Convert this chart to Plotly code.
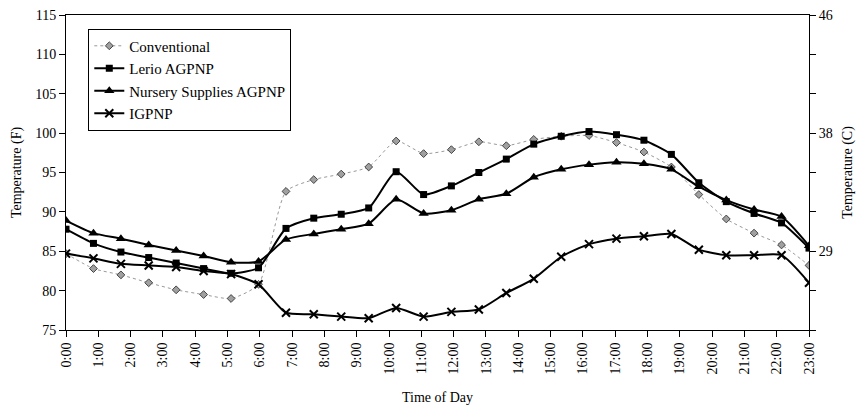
import plotly.graph_objects as go

# Times of measurement (hours since midnight), 28 evenly spaced readings
times = [0.00, 0.85, 1.70, 2.56, 3.41, 4.26, 5.11, 5.96, 6.81, 7.67, 8.52, 9.37,
         10.22, 11.07, 11.93, 12.78, 13.63, 14.48, 15.33, 16.19, 17.04, 17.89,
         18.74, 19.59, 20.44, 21.30, 22.15, 23.00]

conventional = [84.7, 82.8, 82.0, 81.0, 80.1, 79.5, 79.0, 80.8, 92.6, 94.1, 94.8, 95.7,
                99.0, 97.4, 97.9, 98.9, 98.4, 99.2, 99.6, 99.7, 98.8, 97.6,
                95.7, 92.2, 89.1, 87.3, 85.8, 83.2]
lerio = [87.8, 86.0, 84.9, 84.2, 83.5, 82.8, 82.2, 82.9, 87.9, 89.2, 89.7, 90.5,
         95.1, 92.2, 93.3, 95.0, 96.7, 98.6, 99.6, 100.2, 99.8, 99.1,
         97.3, 93.7, 91.3, 89.8, 88.6, 85.4]
nursery = [88.9, 87.3, 86.6, 85.8, 85.1, 84.4, 83.6, 83.7, 86.5, 87.2, 87.8, 88.5,
           91.6, 89.8, 90.2, 91.6, 92.3, 94.4, 95.4, 96.0, 96.3, 96.1,
           95.4, 93.2, 91.5, 90.3, 89.4, 85.7]
igpnp = [84.7, 84.1, 83.4, 83.2, 83.0, 82.5, 82.1, 80.8, 77.2, 77.0, 76.7, 76.5,
         77.8, 76.7, 77.3, 77.6, 79.7, 81.5, 84.3, 85.9, 86.6, 86.9,
         87.2, 85.2, 84.5, 84.5, 84.5, 81.0]

hour_ticks = list(range(24))
hour_labels = [f"{h}:00" for h in hour_ticks]
f_ticks = [75, 80, 85, 90, 95, 100, 105, 110, 115]
c_tick_text = ["", "", "29", "", "", "38", "", "", "46"]

serif = "Liberation Serif, Times New Roman, serif"

fig = go.Figure()
fig.add_trace(go.Scatter(
    x=times, y=conventional, name="Conventional", mode="lines+markers",
    line=dict(color="#999999", width=1, dash="dot", shape="spline", smoothing=0.6),
    marker=dict(symbol="diamond", size=6, color="#a0a0a0", line=dict(color="#444", width=1))))
fig.add_trace(go.Scatter(
    x=times, y=lerio, name="Lerio AGPNP", mode="lines+markers",
    line=dict(color="black", width=2, shape="spline", smoothing=0.6),
    marker=dict(symbol="square", size=7, color="black")))
fig.add_trace(go.Scatter(
    x=times, y=nursery, name="Nursery Supplies AGPNP", mode="lines+markers",
    line=dict(color="black", width=2, shape="spline", smoothing=0.6),
    marker=dict(symbol="triangle-up", size=9, color="black")))
fig.add_trace(go.Scatter(
    x=times, y=igpnp, name="IGPNP", mode="lines+markers",
    line=dict(color="black", width=2, shape="spline", smoothing=0.6),
    marker=dict(symbol="x-thin", size=8, color="black", line=dict(color="black", width=2))))

# invisible trace to activate secondary axis
fig.add_trace(go.Scatter(x=[0], y=[75], yaxis="y2", showlegend=False,
                         mode="markers", marker=dict(opacity=0), hoverinfo="skip"))

fig.update_layout(
    width=861, height=412,
    margin=dict(l=66, r=51, t=8, b=82),
    paper_bgcolor="white", plot_bgcolor="white",
    font=dict(family=serif, size=14, color="black"),
    showlegend=True,
    legend=dict(x=0.03, y=0.957, xanchor="left", yanchor="top",
                bgcolor="white", bordercolor="black", borderwidth=1,
                font=dict(family=serif, size=15), tracegroupgap=0),
    xaxis=dict(range=[0, 23], tickmode="array", tickvals=hour_ticks, ticktext=hour_labels,
               tickangle=-90, ticks="outside", ticklen=6, tickcolor="black",
               showline=True, linecolor="black", linewidth=1, mirror=True,
               showgrid=False, zeroline=False,
               title=dict(text="Time of Day", font=dict(family=serif, size=14), standoff=18),
               tickfont=dict(family=serif, size=14)),
    yaxis=dict(range=[75, 115], tickmode="array", tickvals=f_ticks,
               ticks="outside", ticklen=6, tickcolor="black",
               showline=True, linecolor="black", linewidth=1,
               showgrid=False, zeroline=False,
               title=dict(text="Temperature (F)", font=dict(family=serif, size=14), standoff=10),
               tickfont=dict(family=serif, size=14)),
    yaxis2=dict(range=[75, 115], overlaying="y", side="right", tickmode="array",
                tickvals=f_ticks, ticktext=c_tick_text,
                ticks="outside", ticklen=6, tickcolor="black",
                showline=True, linecolor="black", linewidth=1,
                showgrid=False, zeroline=False,
                title=dict(text="Temperature (C)", font=dict(family=serif, size=14), standoff=10),
                tickfont=dict(family=serif, size=14)),
)

fig.write_html("out.html")
